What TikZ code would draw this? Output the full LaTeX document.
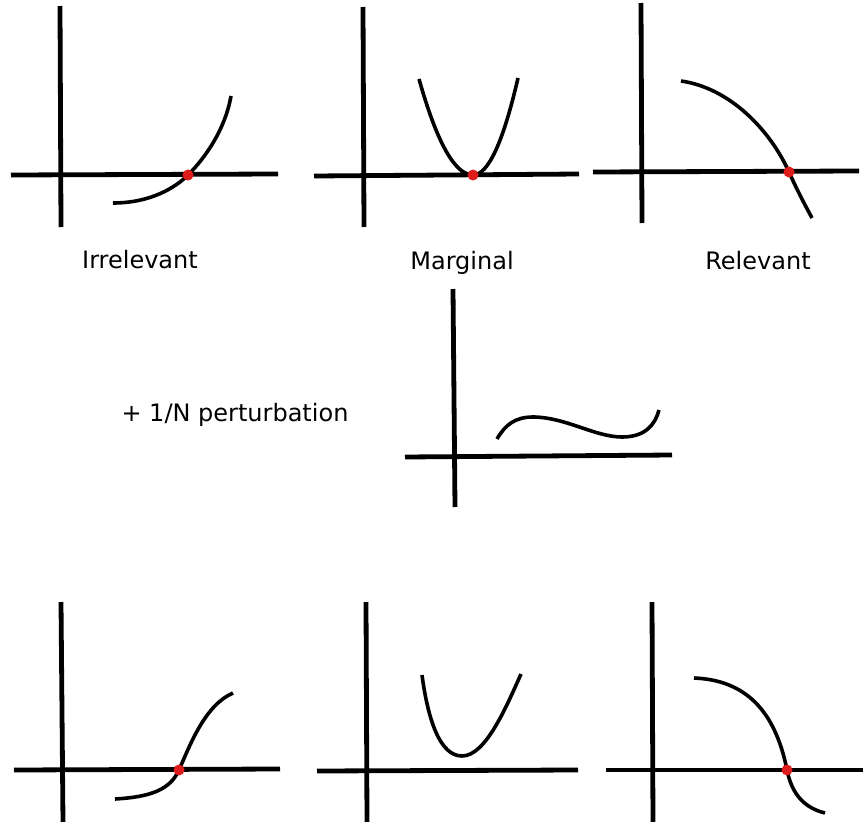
\documentclass[tikz,border=0pt]{standalone}
\usepackage{fontspec}
\setmainfont{DejaVu Sans}
\definecolor{dotred}{RGB}{222,28,28}
\begin{document}
\begin{tikzpicture}[x=1pt,y=-1pt,
  axis/.style={line width=4.8pt},
  curve/.style={line width=3.6pt},
  fixdot/.style={fill=dotred},
  lbl/.style={font=\fontsize{24}{28}\selectfont, inner sep=0pt}]
\useasboundingbox (0,0) rectangle (863,822);
% ---------- top left: irrelevant
\draw[axis] (60,6) -- (61,227);
\draw[axis] (11,175) -- (278,174);
\draw[curve] (113,203) .. controls (150,203) and (175,188) .. (188,175)
  .. controls (205,158) and (225,130) .. (231,96);
\fill[fixdot] (188,175) circle (5.5pt);
\node[lbl] (irr) at (140,260) {Irrelevant};
% ---------- top middle: marginal
\draw[axis] (363,7) -- (364,227);
\draw[axis] (314,176) -- (579,174);
\draw[curve] (419,79) .. controls (437,143) and (455,175) .. (473,175)
  .. controls (488,175) and (503,143) .. (518,78);
\fill[fixdot] (473,175) circle (5.5pt);
\node[lbl] (mar) at (462,263) {Marginal};
% ---------- top right: relevant
\draw[axis] (641,3) -- (642,223);
\draw[axis] (593,172) -- (859,171);
\draw[curve] (681,81) .. controls (730,88) and (770,130) .. (789,172)
  .. controls (797,190) and (805,205) .. (812,218);
\fill[fixdot] (789,172) circle (5.5pt);
\node[lbl] (rel) at (758,261) {Relevant};
% ---------- middle: perturbation
\node[lbl] (pert) at (235,415) {+ 1/N perturbation};
\draw[axis] (453,289) -- (455,507);
\draw[axis] (405,457) -- (672,455);
\draw[curve] (497,439) .. controls (505,425) and (515,417) .. (533,417)
  .. controls (565,417) and (595,437) .. (622,437)
  .. controls (645,437) and (655,425) .. (659,410);
% ---------- bottom left
\draw[axis] (61,602) -- (63,822);
\draw[axis] (14,770) -- (280,769);
\draw[curve] (115,799) .. controls (150,797) and (170,790) .. (179,770)
  .. controls (190,745) and (205,705) .. (233,693);
\fill[fixdot] (179,770) circle (5.5pt);
% ---------- bottom middle
\draw[axis] (366,602) -- (367,822);
\draw[axis] (317,771) -- (578,770);
\draw[curve] (422,675) .. controls (428,720) and (440,756) .. (462,756)
  .. controls (485,756) and (505,710) .. (521,674);
% ---------- bottom right
\draw[axis] (652,602) -- (653,822);
\draw[axis] (606,770) -- (863,770);
\draw[curve] (694,678) .. controls (745,680) and (775,710) .. (787,770)
  .. controls (792,795) and (805,808) .. (825,813);
\fill[fixdot] (787,770) circle (5.5pt);
\end{tikzpicture}
\end{document}
